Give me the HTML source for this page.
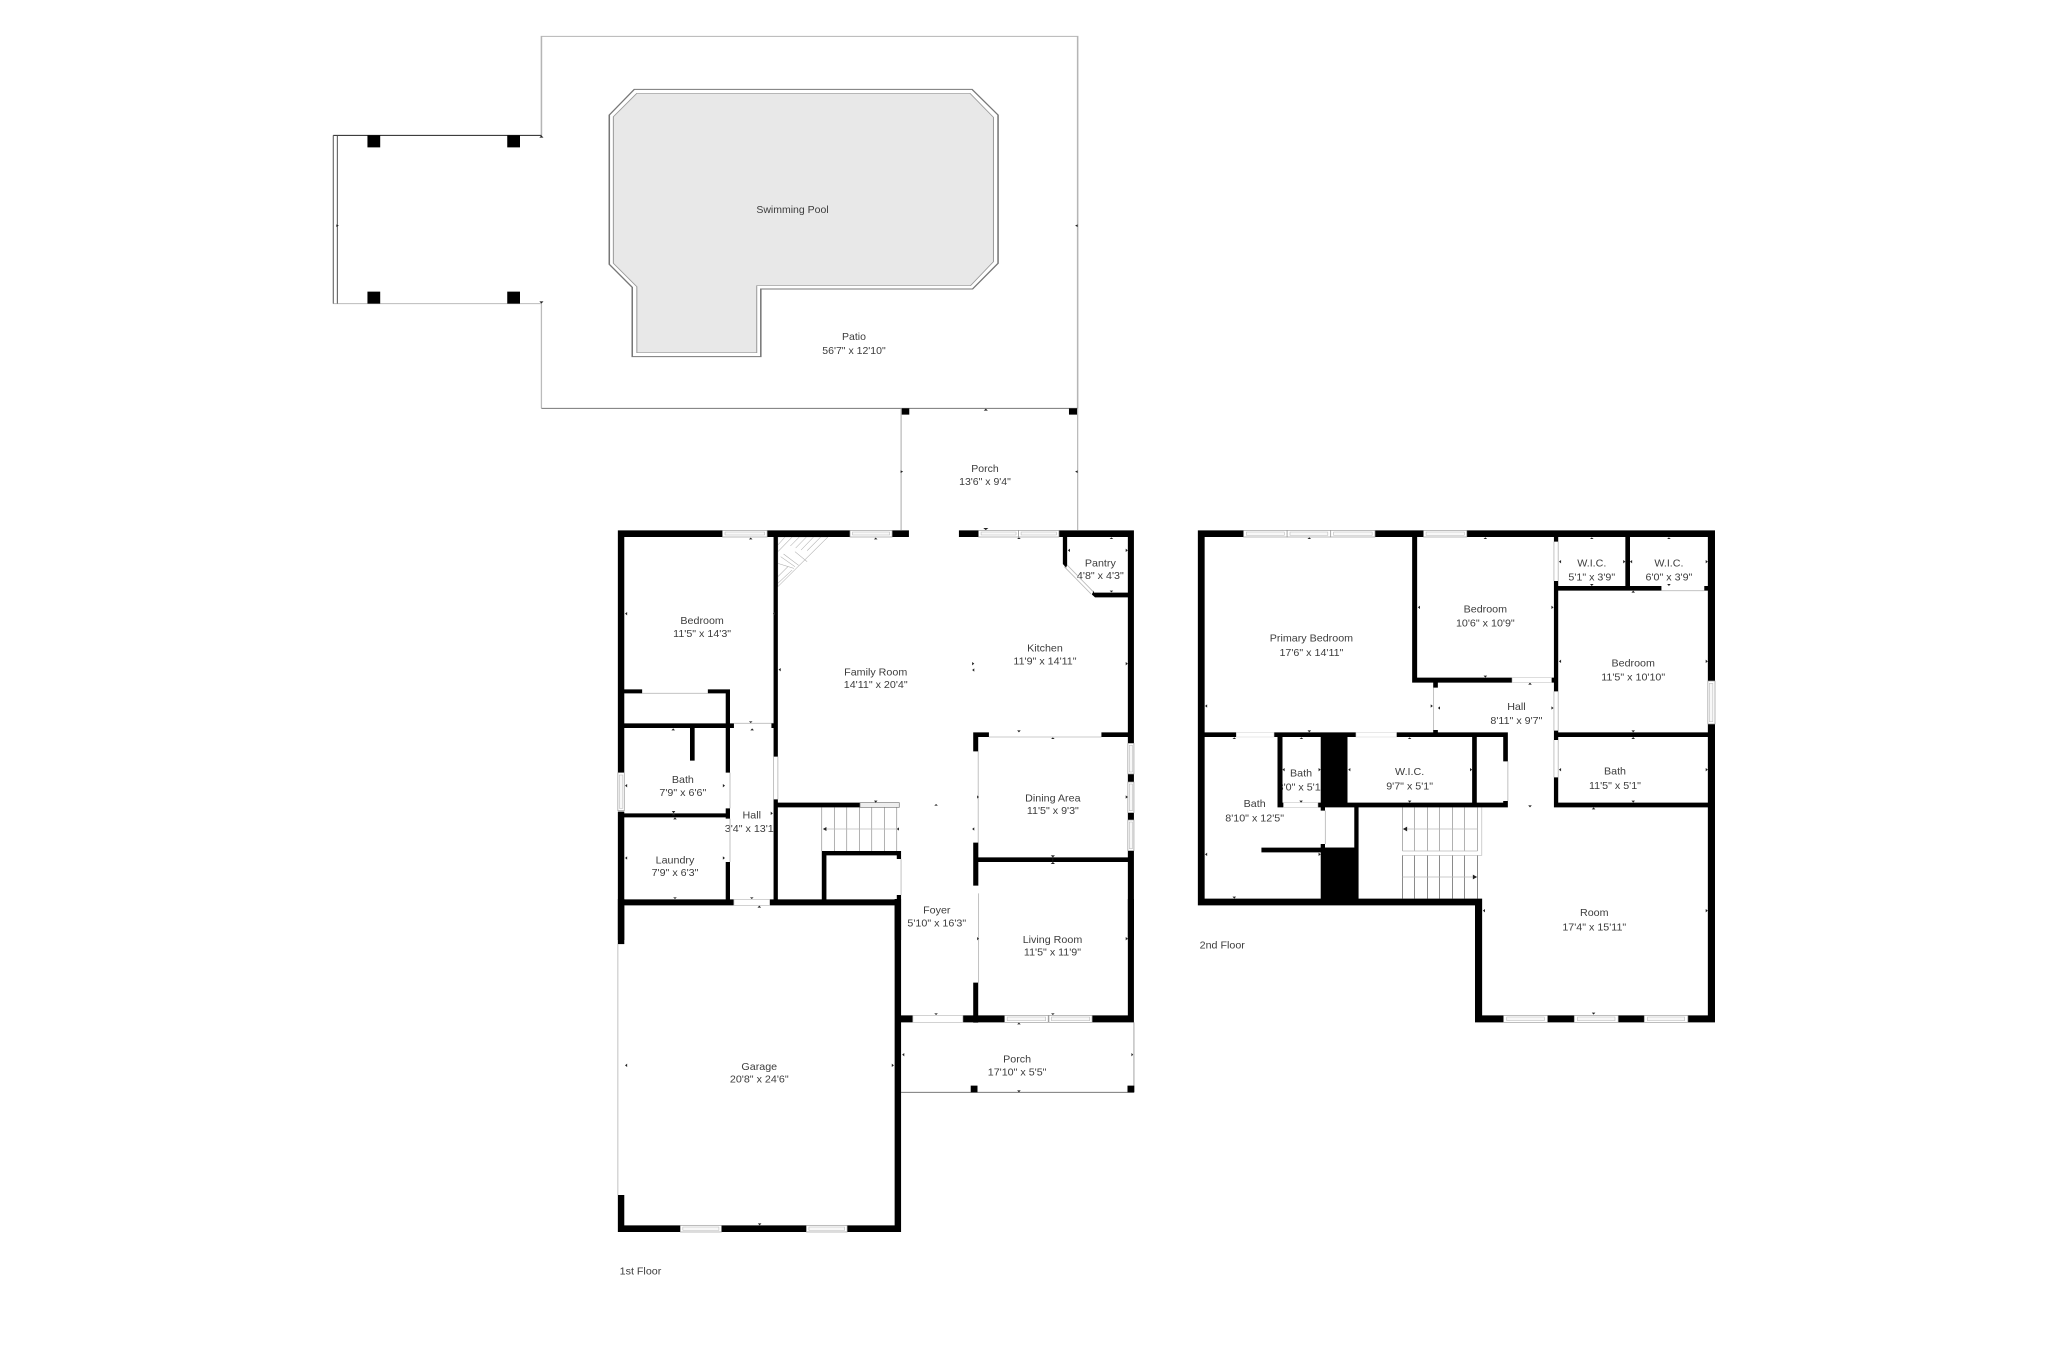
<!DOCTYPE html>
<html><head><meta charset="utf-8"><title>Floor plan</title>
<style>
html,body{margin:0;padding:0;background:#fff;width:2048px;height:1351px;overflow:hidden}
svg{display:block}
text{font-family:"Liberation Sans",sans-serif;fill:#3c3c3c;text-anchor:middle}
.f{text-anchor:start}
.z text{font-size:30px}
.w{fill:#fff;stroke:#999;stroke-width:2}
.wi{fill:#f8f8f8;stroke:#b5b5b5;stroke-width:1.5}
.d{fill:#fff;stroke:#bbb;stroke-width:2}
.g{fill:none;stroke:#bbb;stroke-width:2.5}
.s{fill:none;stroke:#777;stroke-width:1.6}
.sl{fill:none;stroke:#bbb;stroke-width:2}
</style></head>
<body>
<svg xmlns="http://www.w3.org/2000/svg" width="2048" height="1351" viewBox="0 0 2048 1351">
<rect width="2048" height="1351" fill="#fff"/>

<!-- Patio and pool -->
<g transform="translate(320 20) scale(.5102 .33333)">
<path d="M434 346V49H1485V1165" fill="none" stroke="#b5b5b5" stroke-width="3"/>
<path d="M434 851V1165" fill="none" stroke="#bbb" stroke-width="2.5"/>
<path d="M434 1165H1485" fill="none" stroke="#777" stroke-width="3"/>
<path d="M26 346H434" fill="none" stroke="#222" stroke-width="3"/>
<path d="M26 851H434" fill="none" stroke="#bbb" stroke-width="3"/>
<path d="M26 346V851M34 346V851" fill="none" stroke="#555" stroke-width="2"/>
<path d="M93 346H118V382H93ZM367 346H392V382H367ZM93 815H118V851H93ZM367 815H392V851H367ZM1139 1165H1155V1184H1139ZM1468 1165H1485V1184H1468Z" fill="#000"/>
<polygon points="616,208 1278,208 1329,285 1329,730 1279,807 864,807 864,1010 612,1010 612,802 567,733 567,285" fill="#fff" stroke="#777" stroke-width="3"/>
<polygon points="621,220 1274,220 1320,292 1320,725 1275,797 856,797 856,998 621,998 621,800 575,730 575,290" fill="#e8e8e8" stroke="#999" stroke-width="2"/>
<path d="M1139 1165V1530M1485 1165V1530" class="g"/>
<path d="M434 346l-4 7h8zM434 851l-4-7h8zM37 617l-5-4v8zM1480 617l5-4v8zM1305 1166l-4 6h8zM1143 1355l-5-4v8zM1480 1355l5-4v8zM1305 1530l-5-6h10z" fill="#222"/>
</g>
<g style="font-size:10.5px">
<text x="792.5" y="213">Swimming Pool</text>
<text x="854" y="340">Patio</text>
<text x="854" y="354">56'7" x 12'10"</text>
<text x="985" y="472">Porch</text>
<text x="985" y="485">13'6" x 9'4"</text>
</g>

<!-- 1st floor upper -->
<g class="z" transform="translate(610 520) scale(.35714 .33333)">
<text x="258" y="312">Bedroom</text><text x="258" y="351">11'5" x 14'3"</text>
<text x="744" y="467">Family Room</text><text x="744" y="504">14'11" x 20'4"</text>
<text x="1218" y="394">Kitchen</text><text x="1218" y="434">11'9" x 14'11"</text>
<text x="1373" y="139">Pantry</text><text x="1373" y="177">4'8" x 4'3"</text>
<text x="204" y="789">Bath</text><text x="204" y="828">7'9" x 6'6"</text>
<text x="397" y="895">Hall</text><text x="390" y="936">3'4" x 13'1</text>
<text x="182" y="1031">Laundry</text><text x="182" y="1068">7'9" x 6'3"</text>
<text x="1240" y="845">Dining Area</text><text x="1240" y="882">11'5" x 9'3"</text>
<text x="915" y="1181">Foyer</text><text x="915" y="1219">5'10" x 16'3"</text>

<!-- fireplace -->
<polygon points="470,51 610,51 470,200" fill="#fff" stroke="#aaa" stroke-width="1.5"/>
<path d="M490 51L470 75M510 51L470 95M530 51L505 78M550 51L520 84M570 51L535 90M590 51L552 92M478 110L518 140M486 102L528 136M470 130L515 145M498 140L470 170M510 150L470 190M518 95L552 125" stroke="#aaa" stroke-width="1.5" fill="none"/>

<!-- stairs -->
<path d="M593 862V993M628 862V993M663 862V993M698 862V993M733 862V993M768 862V993M803 862V993" class="s"/>
<path d="M600 927H805" class="sl"/>
<path d="M596 927l10-6v12zM803 927l6-5v10z" fill="#222"/>

<!-- thin lines -->
<path d="M1031 694V1097M1061 651H1376M90 520H274M815 1017V1125M458 710V838M470 710V838M336 758V865M336 896V1026M347 610H458" class="g"/>
<path d="M1280 135L1353 215M1272 140L1347 222" class="g"/>

<!-- walls -->
<path fill="#000" d="M22 31H315V51H22ZM440 31H672V51H440ZM790 31H837V51H790ZM977 31H1032V51H977ZM1257 31H1467V51H1257Z
M22 31H40V758H22ZM22 875H40V1260H22Z
M458 51H470V710H458ZM458 838H470V1156H458Z
M40 508H90V520H40ZM274 508H336V520H274ZM324 508H336V610H324Z
M40 610H347V624H40ZM452 610H470V624H452Z
M224 624H237V722H224ZM324 624H336V758H324ZM324 865H336V896H324ZM40 880H336V892H40ZM324 1026H336V1138H324Z
M22 1138H347V1156H22ZM447 1138H815V1156H447Z
M470 848H700V862H470ZM593 993H815V1006H593ZM593 1006H606V1138H593ZM803 993H815V1017H803ZM803 1125H815V1156H803ZM797 1156H815V1260H797Z
M1017 637H1031V694H1017ZM1017 637H1061V651H1017ZM1376 637H1467V651H1376ZM1017 968H1031V1097H1017ZM1031 1012H1450V1026H1031Z
M1450 31H1467V670H1450ZM1450 762H1467V786H1450ZM1450 878H1467V900H1450ZM1450 992H1467V1260H1450Z
M1268 51H1280V135L1277 143L1268 132Z M1355 218H1450V232H1358L1349 223L1355 212Z"/>

<!-- doors and windows -->
<rect class="d" x="347" y="1138" width="100" height="18"/>
<rect x="700" y="848" width="110" height="14" fill="#eee" stroke="#777" stroke-width="2"/>
<g>
<rect class="w" x="315" y="31" width="125" height="20"/><rect class="wi" x="322" y="36" width="111" height="9"/>
<rect class="w" x="672" y="31" width="118" height="20"/><rect class="wi" x="679" y="36" width="104" height="9"/>
<rect class="w" x="1032" y="31" width="112" height="20"/><rect class="wi" x="1039" y="36" width="98" height="9"/>
<rect class="w" x="1144" y="31" width="113" height="20"/><rect class="wi" x="1151" y="36" width="99" height="9"/>
<rect class="w" x="22" y="758" width="18" height="114"/><rect class="wi" x="26" y="765" width="10" height="100"/>
<rect class="w" x="1450" y="670" width="17" height="92"/><rect class="wi" x="1454" y="676" width="9" height="80"/>
<rect class="w" x="1450" y="786" width="17" height="92"/><rect class="wi" x="1454" y="792" width="9" height="80"/>
<rect class="w" x="1450" y="900" width="17" height="92"/><rect class="wi" x="1454" y="906" width="9" height="80"/>
</g>
<path fill="#222" d="M394 53l-5 5h10zM744 53l-5 5h10zM1145 52l-5 5h10zM1404 52l-5 5h10zM1052 30l-5-5h10zM42 281l6-5v10zM456 281l6-5v10zM472 449l6-5v10zM1282 91l6-5v10zM1450 91l-6-5v10zM1404 217l-5-5h10zM1020 431l-6 5v-10zM1014 450l6-5v10zM1450 431l-6-5v10zM394 609l-5-5h10zM398 625l-5 6h10zM177 625l-5 6h10zM42 797l6-5v10zM322 797l-6-5v10zM178 880l-5-7h10zM178 880l-5 6h10zM182 892l-5 6h10zM456 880l-6-5v10zM42 1014l6-5v10zM322 1014l-6-5v10zM182 1137l-5-5h10zM397 1137l-5-5h10zM418 1157l-5 6h10zM744 848l-5-6h10zM913 852l-5 5h10zM1033 831l-5-5v10zM1450 831l-6-5v10zM1014 927l6-5v10zM1145 637l-5-6h10zM1240 652l-5 5h10zM1240 1012l-6-6h12zM1240 1026l-6 6h12z"/>
<path d="M1240 1006V1032" stroke="#222" stroke-width="2"/>
</g>

<!-- 1st floor lower -->
<g class="z" transform="translate(610 900) scale(.35714 .33333)">
<text x="1239" y="129">Living Room</text><text x="1239" y="167">11'5" x 11'9"</text>
<text x="418" y="510">Garage</text><text x="418" y="548">20'8" x 24'6"</text>
<text x="1140" y="488">Porch</text><text x="1140" y="526">17'10" x 5'5"</text>
<text class="f" x="27" y="1124">1st Floor</text>
<path d="M1032 -20V248M40 132H22M22 132V885" class="g"/>
<path d="M1467 367V577" fill="none" stroke="#aaa" stroke-width="3"/>
<path d="M815 577H1467" fill="none" stroke="#666" stroke-width="2.5"/>
<path fill="#000" d="M22 -3H40V132H22ZM22 885H40V996H22ZM22 976H197V996H22ZM312 976H550V996H312ZM664 976H815V996H664ZM797 -3H815V996H797Z
M1017 248H1031V368H1017ZM815 346H848V367H815ZM988 346H1105V367H988ZM1350 346H1467V367H1350ZM1450 -3H1467V367H1450Z
M1010 557H1029V577H1010ZM1449 557H1468V577H1449Z"/>
<rect class="d" x="848" y="346" width="140" height="21"/>
<rect class="w" x="1105" y="346" width="122" height="21"/><rect class="wi" x="1112" y="351" width="108" height="11"/>
<rect class="w" x="1229" y="346" width="121" height="21"/><rect class="wi" x="1236" y="351" width="107" height="11"/>
<rect class="w" x="197" y="976" width="115" height="20"/><rect class="wi" x="204" y="981" width="101" height="10"/>
<rect class="w" x="550" y="976" width="114" height="20"/><rect class="wi" x="557" y="981" width="100" height="10"/>
<path fill="#222" d="M42 496l6-5v10zM795 496l-6-5v10zM419 976l-5-6h10zM913 345l-5-5h10zM1240 345l-5-5h10zM1145 368l-5 5h10zM818 464l6-5v10zM1465 464l-5-5v10zM1145 577l-5-6h10zM1033 116l-5-5v10zM1450 116l-6-5v10z"/>
</g>

<!-- 2nd floor -->
<g class="z" transform="translate(1190 520) scale(.35714 .33333)">
<text x="340" y="365">Primary Bedroom</text><text x="340" y="408">17'6" x 14'11"</text>
<text x="827" y="278">Bedroom</text><text x="827" y="320">10'6" x 10'9"</text>
<text x="1125" y="139">W.I.C.</text><text x="1125" y="182">5'1" x 3'9"</text>
<text x="1341" y="139">W.I.C.</text><text x="1341" y="182">6'0" x 3'9"</text>
<text x="1241" y="439">Bedroom</text><text x="1241" y="482">11'5" x 10'10"</text>
<text x="914" y="570">Hall</text><text x="914" y="612">8'11" x 9'7"</text>
<text x="311" y="769">Bath</text><text x="311" y="812">3'0" x 5'1"</text>
<text x="615" y="765">W.I.C.</text><text x="615" y="808">9'7" x 5'1"</text>
<text x="1190" y="764">Bath</text><text x="1190" y="807">11'5" x 5'1"</text>
<text x="181" y="861">Bath</text><text x="181" y="904">8'10" x 12'5"</text>
<text x="1132" y="1188">Room</text><text x="1132" y="1231">17'4" x 15'11"</text>
<text class="f" x="27" y="1285">2nd Floor</text>

<!-- stairs -->
<path d="M595 862V993M628 862V993M665 862V993M698 862V993M735 862V993M768 862V993M805 862V993" class="s"/>
<path d="M595 1006V1136M628 1006V1136M665 1006V1136M698 1006V1136M735 1006V1136M768 1006V1136M805 1006V1136" fill="none" stroke="#333" stroke-width="1.6"/>
<path d="M606 927H805M595 1071H800M595 993H805M817 862V1006H595" class="sl"/>
<path d="M596 927l12-7v14zM804 1071l-12-7v14z" fill="#222"/>

<!-- thin lines -->
<path d="M682 503V630M379 872V972M378 983H460M890 724V843M1019 65V183M1031 65V183M1019 514V632M1031 514V632M1019 660V772M1031 660V772M1320 212H1440" class="g"/>

<!-- walls -->
<path fill="#000" d="M22 31H150V51H22ZM518 31H654V51H518ZM775 31H1470V51H775Z
M22 31H41V1156H22ZM1450 31H1470V483H1450ZM1450 612H1470V1507H1450Z
M622 51H636V488H622ZM622 473H902V488H622ZM1012 473H1031V488H1012ZM681 488H694V503H681ZM681 630H694V651H681Z
M41 637H130V651H41ZM235 637H465V651H235ZM578 637H890V651H578ZM877 651H890V724H877ZM877 843H890V862H877ZM365 848H890V862H365Z
M245 651H259V862H245ZM245 848H262V862H245ZM358 848H378V862H358Z
M366 637H441V862H366ZM790 651H803V862H790Z
M366 862H378V872H366ZM366 972H378V1000H366ZM200 983H366V997H200ZM366 983H472V1156H366ZM460 862H472V983H460Z
M22 1136H818V1156H22ZM798 1136H818V1507H798ZM798 1486H878V1507H798ZM1001 1486H1076V1507H1001ZM1199 1486H1272V1507H1199ZM1394 1486H1470V1507H1394Z
M1019 51H1031V65H1019ZM1019 183H1031V514H1019ZM1031 198H1320V212H1031ZM1440 198H1470V212H1440ZM1219 51H1232V198H1219Z
M1019 632H1031V660H1019ZM1031 637H1450V651H1031ZM1019 772H1031V862H1019ZM1019 848H1450V862H1019Z"/>

<!-- doors, windows -->
<rect class="d" x="902" y="473" width="110" height="14" style="stroke:#ccc"/>
<rect class="d" x="130" y="637" width="105" height="14" style="stroke:#ddd"/>
<rect class="d" x="465" y="637" width="113" height="14" style="stroke:#ddd"/>
<rect class="d" x="262" y="848" width="96" height="14" style="stroke:#ccc"/>
<rect class="w" x="150" y="31" width="122" height="20"/><rect class="wi" x="158" y="36" width="106" height="10"/>
<rect class="w" x="272" y="31" width="122" height="20"/><rect class="wi" x="280" y="36" width="106" height="10"/>
<rect class="w" x="394" y="31" width="124" height="20"/><rect class="wi" x="402" y="36" width="108" height="10"/>
<rect class="w" x="654" y="31" width="121" height="20"/><rect class="wi" x="661" y="36" width="107" height="10"/>
<rect class="w" x="1450" y="483" width="20" height="129"/><rect class="wi" x="1454" y="490" width="10" height="115"/>
<rect class="w" x="878" y="1486" width="123" height="21"/><rect class="wi" x="887" y="1491" width="105" height="11"/>
<rect class="w" x="1076" y="1486" width="123" height="21"/><rect class="wi" x="1085" y="1491" width="105" height="11"/>
<rect class="w" x="1272" y="1486" width="122" height="21"/><rect class="wi" x="1281" y="1491" width="104" height="11"/>

<path fill="#222" d="M334 52l-5 5h10zM827 52l-5 5h10zM1125 52l-5 5h10zM1341 52l-5 5h10zM42 558l6-5v10zM680 558l-6-5v10zM694 564l6-5v10zM1018 564l-6-5v10zM638 262l6-5v10zM1018 262l-6-5v10zM1033 125l6-5v10zM1219 125l-6-5v10zM1232 125l6-5v10zM1450 125l-6-5v10zM1125 198l-5-6h10zM1341 198l-5-6h10zM1241 212l-5 6h10zM1033 424l6-5v10zM1450 424l-6-5v10zM827 473l-5-6h10zM952 488l-5 6h10zM1241 637l-5-6h10zM1241 651l-5 6h10zM334 637l-5-6h10zM124 652l-5 5h10zM312 652l-5 5h10zM615 652l-5 5h10zM259 749l6-5v10zM366 749l-6-5v10zM443 749l6-5v10zM790 749l-6-5v10zM1033 749l6-5v10zM1450 749l-6-5v10zM311 848l-5-6h10zM615 848l-5-6h10zM1241 848l-5-6h10zM952 862l-5-6h10zM1130 862l-5 6h10zM42 1003l6-5v10zM366 1003l-6-5v10zM124 1136l-5-6h10zM820 1172l6-5v10zM1450 1172l-6-5v10zM1130 1484l-5-6h10z"/>
</g>
</svg>
</body></html>
